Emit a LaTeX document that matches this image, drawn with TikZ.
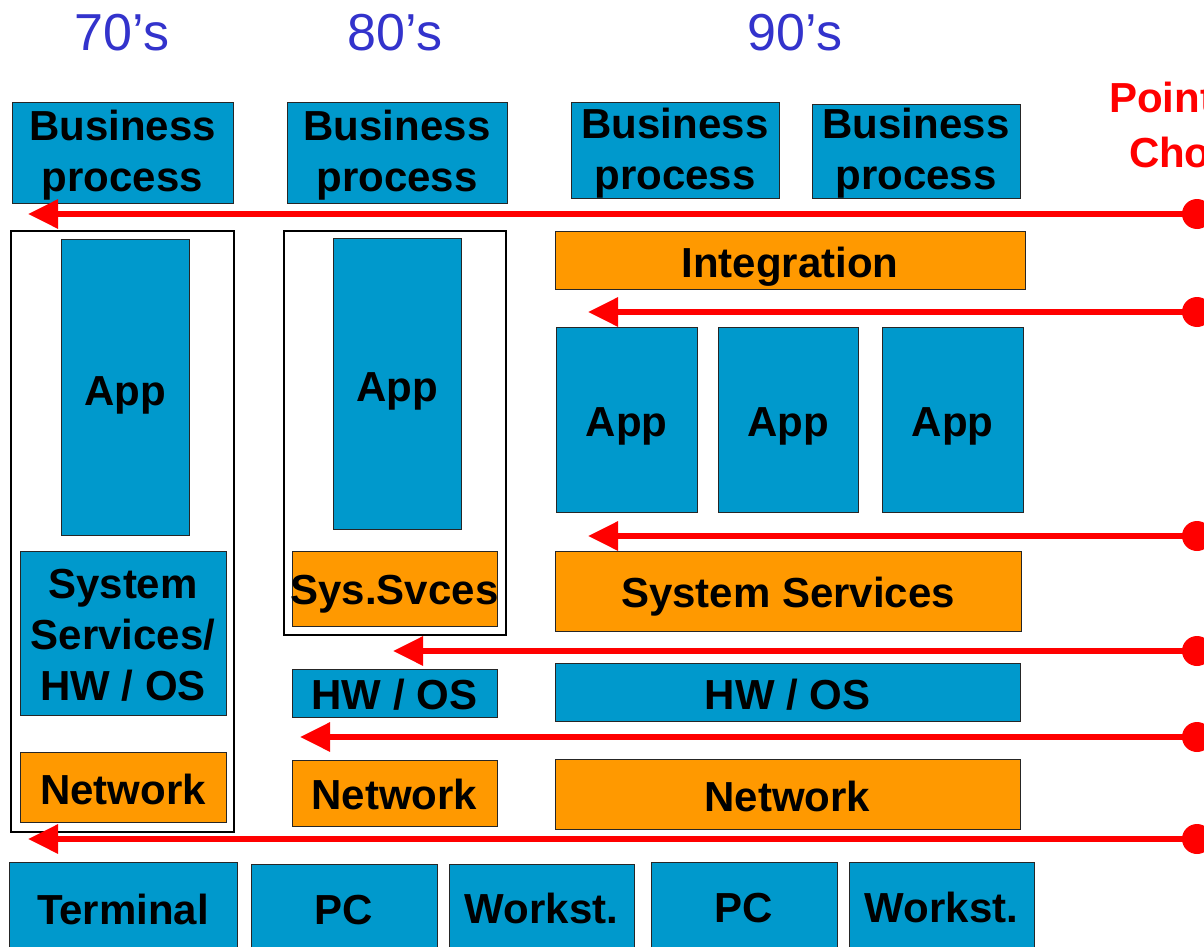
\documentclass[tikz,border=0pt]{standalone}
\usepackage{fontspec}
\setmainfont{Liberation Sans}
\usetikzlibrary{arrows.meta}
\definecolor{boxblue}{RGB}{0,153,204}
\definecolor{boxorange}{RGB}{255,153,0}
\definecolor{hdrblue}{RGB}{51,51,204}
\definecolor{ptred}{RGB}{255,0,0}
\tikzset{
  box/.style={draw=black!85, line width=1pt, inner sep=0pt},
  bluebox/.style={box, fill=boxblue},
  orangebox/.style={box, fill=boxorange},
  lbl/.style={inner sep=0pt, align=center, font=\fontsize{42}{51}\selectfont\bfseries},
  frame/.style={draw=black, line width=1.3pt, fill=white, inner sep=0pt},
  hdr/.style={text=hdrblue, font=\fontsize{52}{60}\selectfont, inner sep=0pt},
  dot/.style={circle, fill=ptred, inner sep=0pt, minimum size=30pt},
  choice/.style={draw=ptred, line width=6pt, -{Triangle[length=30pt,width=28pt]}},
}
% #1 style, #2 name, #3 centre, #4 width, #5 height, #6 text, #7 text yshift
\newcommand{\bx}[7]{%
  \node[#1, minimum width=#4pt, minimum height=#5pt] (#2) at (#3) {};
  \node[lbl, yshift=#7pt] (#2-t) at (#2.center) {#6};}
\begin{document}
\begin{tikzpicture}[x=1pt,y=-1pt]
\clip (0,0) rectangle (1204,947);
\fill[white] (0,0) rectangle (1204,947);

% headers
\node[hdr] (h70) at (122,33) {70’s};
\node[hdr] (h80) at (395,33) {80’s};
\node[hdr] (h90) at (795,33) {90’s};
\node[text=ptred, align=center, inner sep=0pt, font=\fontsize{42}{55}\selectfont\bfseries] (poc) at (1199,124.5) {Points of\\Choice};

% business processes
\bx{bluebox}{bp1}{122.5,153}{221}{100}{Business\\process}{-2}
\bx{bluebox}{bp2}{397,153}{220}{100}{Business\\process}{-2}
\bx{bluebox}{bp3}{675,150.5}{208}{95}{Business\\process}{-3}
\bx{bluebox}{bp4}{916,151.5}{208}{93}{Business\\process}{-2}

% column frames
\node[frame, minimum width=223pt, minimum height=601pt] (f1) at (122.5,531.5) {};
\node[frame, minimum width=222pt, minimum height=404pt] (f2) at (395,433) {};

% 70s
\bx{bluebox}{app1}{125,387}{128}{296}{App}{-8}
\bx{bluebox}{sys1}{123,633}{206}{164}{System\\Services/\\HW / OS}{-2}
\bx{orangebox}{net1}{123,787}{206}{70}{Network}{-2}

% 80s
\bx{bluebox}{app2}{397,383.5}{128}{291}{App}{-8}
\bx{orangebox}{sys2}{394.5,588.5}{205}{75}{Sys.Svces}{-6}
\bx{bluebox}{hw2}{394.5,693}{205}{48}{HW / OS}{-2}
\bx{orangebox}{net2}{394.5,793}{205}{66}{Network}{-1}

% 90s
\bx{orangebox}{integ}{790,260}{470}{58}{Integration}{-7}
\bx{bluebox}{app3a}{626.5,419.5}{141}{185}{App}{-7}
\bx{bluebox}{app3b}{788,419.5}{140}{185}{App}{-7}
\bx{bluebox}{app3c}{952.5,419.5}{141}{185}{App}{-7}
\bx{orangebox}{sys3}{788,591}{466}{80}{System Services}{-6}
\bx{bluebox}{hw3}{787.5,692}{465}{58}{HW / OS}{-3}
\bx{orangebox}{net3}{787.5,794}{465}{70}{Network}{-2}

% hardware row
\bx{bluebox}{term}{123,910}{228}{96}{Terminal}{1}
\bx{bluebox}{pc1}{344,911}{186}{94}{PC}{1}
\bx{bluebox}{ws1}{541.5,911}{185}{94}{Workst.}{3}
\bx{bluebox}{pc2}{744,910}{186}{96}{PC}{2}
\bx{bluebox}{ws2}{941.5,910}{185}{96}{Workst.}{3}

% points of choice
\node[dot] (d1) at (1197,214) {};
\node[dot] (d2) at (1197,312) {};
\node[dot] (d3) at (1197,536) {};
\node[dot] (d4) at (1197,651) {};
\node[dot] (d5) at (1197,737) {};
\node[dot] (d6) at (1197,839) {};
\coordinate (t1) at (28,214);
\coordinate (t2) at (588,312);
\coordinate (t3) at (588,536);
\coordinate (t4) at (393,651);
\coordinate (t5) at (300,737);
\coordinate (t6) at (28,839);
\foreach \i in {1,...,6} {\draw[choice] (d\i.center) -- (t\i);}
\end{tikzpicture}
\end{document}
